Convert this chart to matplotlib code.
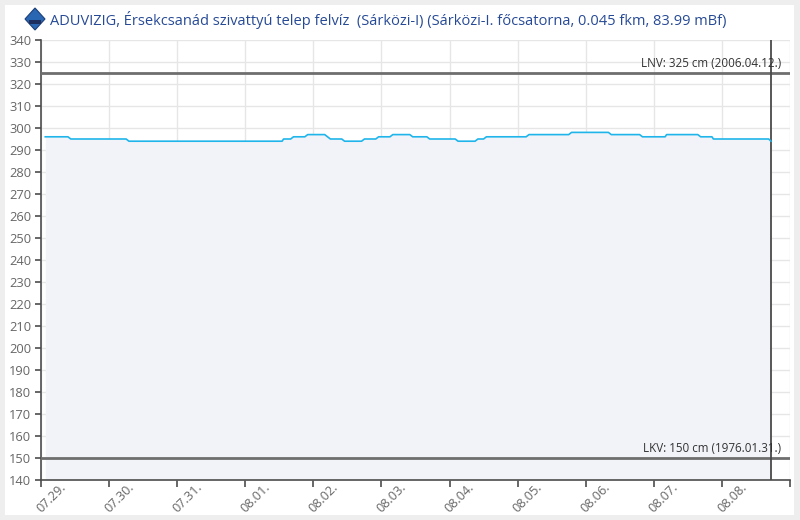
import numpy as np
import matplotlib.pyplot as plt
import matplotlib.transforms as mtransforms
from matplotlib.patches import Polygon, Rectangle

DPI = 100

# vízállás (cm), lépcsők kezdete / vége órában 07.29. 00:00-tól
step_start_h = [1.5, 10.5, 31, 85.5, 89, 94, 102, 107, 114, 119, 124, 131,
                137, 147, 154, 157, 172, 187, 201, 212, 220.5, 232.5, 237, 257.3]
step_end_h = [9.5, 30, 85, 88, 93, 100, 106, 113, 118, 123, 130, 136,
              146, 153, 156, 171, 186, 200, 211, 220, 231.5, 236.5, 256.5, 257.3]
level_cm = [296, 295, 294, 295, 296, 297, 295, 294, 295, 296, 297, 296,
            295, 294, 295, 296, 297, 298, 297, 296, 297, 296, 295, 294]

day_labels = ['07.29.', '07.30.', '07.31.', '08.01.', '08.02.', '08.03.',
              '08.04.', '08.05.', '08.06.', '08.07.', '08.08.']
now_h = 257.3
lnv, lnv_text = 325, 'LNV: 325 cm (2006.04.12.)'
lkv, lkv_text = 150, 'LKV: 150 cm (1976.01.31.)'
title = 'ADUVIZIG, Érsekcsanád szivattyú telep felvíz  (Sárközi-I) (Sárközi-I. főcsatorna, 0.045 fkm, 83.99 mBf)'

plt.rcParams['font.family'] = ['Open Sans', 'DejaVu Sans']

fig = plt.figure(figsize=(8, 5.2), dpi=DPI, facecolor='#eeeeee')
# white panel
fig.patches.append(Rectangle((5 / 800, 5 / 520), 789 / 800, 510 / 520,
                             transform=fig.transFigure, facecolor='white',
                             edgecolor='none', zorder=-5))

ax = fig.add_axes([41 / 800, 40 / 520, 749 / 800, 440 / 520])
ax.set_facecolor('white')

xs, ys = [], []
for s, e, v in zip(step_start_h, step_end_h, level_cm):
    xs += [s / 24, e / 24]
    ys += [v, v]
xs = np.array(xs)
ys = np.array(ys)

ax.fill_between(xs, ys, 140, color='#f2f3f8', lw=0, zorder=1)
ax.plot(xs, ys, color='#1fb5ea', lw=1.2, zorder=4)

ax.axhline(lnv, color='#6e6e6e', lw=2, zorder=3)
ax.axhline(lkv, color='#6e6e6e', lw=2, zorder=3)
ax.axvline(now_h / 24, color='#4a4a4a', lw=1.3, zorder=3)
ax.text(0.988, lnv + 1.5, lnv_text, transform=ax.get_yaxis_transform(),
        ha='right', va='bottom', fontsize=8.4, color='#333333', zorder=5)
ax.text(0.988, lkv + 1.5, lkv_text, transform=ax.get_yaxis_transform(),
        ha='right', va='bottom', fontsize=8.4, color='#333333', zorder=5)

ax.set_xlim(0, 11)
ax.set_ylim(140, 340)
ax.set_yticks(np.arange(140, 341, 10))
ax.set_xticks(np.arange(0, 12))
ax.set_xticklabels([])

# rotated day labels, shifted right of their tick like the original
offset = mtransforms.ScaledTranslation(0.18, -0.01, fig.dpi_scale_trans)
for k, lab in enumerate(day_labels):
    ax.text(k, 0, lab, transform=ax.get_xaxis_transform() + offset,
            rotation=45, ha='right', va='top', rotation_mode='anchor',
            fontsize=9.2, color='#666666', clip_on=False)

ax.grid(True, color='#e6e6e6', lw=1, zorder=0)
ax.set_axisbelow(True)
for side in ['top', 'right']:
    ax.spines[side].set_visible(False)
for side in ['left', 'bottom']:
    ax.spines[side].set_color('#4d4d4d')
    ax.spines[side].set_linewidth(1.2)
ax.tick_params(axis='both', colors='#4d4d4d', labelcolor='#666666', labelsize=9.3)
ax.tick_params(axis='x', length=5, width=1.2, pad=1)
ax.tick_params(axis='y', length=4, width=1.2, pad=3)

# logo + title
logo = Polygon([[25 / 800, 1 - 19 / 520], [35 / 800, 1 - 8 / 520],
                [45 / 800, 1 - 19 / 520], [35 / 800, 1 - 30 / 520]],
               closed=True, transform=fig.transFigure, facecolor='#2a67b3',
               edgecolor='#1c3f7a', lw=0.8)
fig.patches.append(logo)
fig.patches.append(Rectangle((29 / 800, 1 - 24 / 520), 12 / 800, 4 / 520,
                             transform=fig.transFigure, facecolor='#1c2f5e',
                             edgecolor='none'))
fig.text(50 / 800, 1 - 20 / 520, title, ha='left', va='center',
         fontsize=10.5, color='#274a96')

plt.savefig('out.png', dpi=DPI, facecolor=fig.get_facecolor())
